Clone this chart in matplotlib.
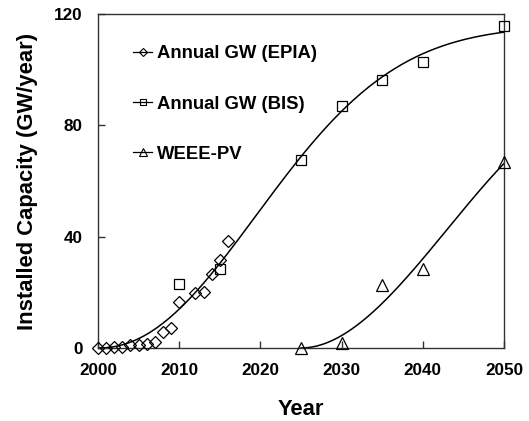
import numpy as np
import matplotlib
matplotlib.use("Agg")
import matplotlib.pyplot as plt
from matplotlib.lines import Line2D

plt.rcParams['font.family'] = ['Liberation Sans', 'DejaVu Sans']
plt.rcParams['font.weight'] = 'bold'

epia_years = [2000,2001,2002,2003,2004,2005,2006,2007,2008,2009,2010,2012,2013,2014,2015,2016]
epia_gw = [0.1,0.1,0.3,0.5,0.9,1.1,1.3,2.0,5.6,7.1,16.6,19.9,20.2,26.5,31.6,38.6]
bis_years = [2010,2015,2025,2030,2035,2040,2050]
bis_gw = [23.0,28.4,67.4,87.1,96.3,102.9,115.7]
weee_years = [2025,2030,2035,2040,2050]
weee_gw = [0.0,1.7,22.6,28.3,66.7]
labels = ['Annual GW (EPIA)', 'Annual GW (BIS)', 'WEEE-PV']
xticks = [2000,2010,2020,2030,2040,2050]
yticks = [0,40,80,120]

fig = plt.figure(figsize=(5.29,4.21), dpi=100)
ax = fig.add_axes([98/529, 1-348/421, (504-98)/529, (348-14)/421])
ax.set_xlim(2000,2050); ax.set_ylim(0,120)

# trend line 1: least-squares Weibull-type growth curve fitted to EPIA + BIS
x = np.array(epia_years+bis_years, float) - epia_years[0]
y = np.array(epia_gw+bis_gw)
best = None
for lam in np.linspace(15, 80, 261):
    for k in np.linspace(1.0, 4, 121):
        b = 1 - np.exp(-(x/lam)**k)
        K = (b@y)/(b@b)
        e = np.sum((K*b - y)**2)
        if best is None or e < best[0]:
            best = (e, lam, k, K)
_, lam, k, K = best
t = np.linspace(0, 50, 300)
ax.plot(t + epia_years[0], K*(1 - np.exp(-(t/lam)**k)), color='k', lw=1.1, zorder=2)

# trend line 2: least-squares fit y = a t^2 + b t^3 to WEEE-PV
xw = np.array(weee_years, float) - weee_years[0]
yw = np.array(weee_gw)
B = np.vstack([xw**2, xw**3]).T
coef2, *_ = np.linalg.lstsq(B, yw, rcond=None)
t2 = np.linspace(0, 25, 200)
f2 = np.vstack([t2**2, t2**3]).T @ coef2
ax.plot(t2 + weee_years[0], f2, color='k', lw=1.1, zorder=2)

mk = dict(mfc='none', mec='k', mew=0.9, ls='none', zorder=3, clip_on=False)
ax.plot(epia_years, epia_gw, marker='D', ms=6.3, **mk)
ax.plot(bis_years, bis_gw, marker='s', ms=7, **mk)
ax.plot(weee_years, weee_gw, marker='^', ms=8.5, **mk)

handles = [Line2D([],[],color='k',lw=0.9,marker=mm,ms=ss,mfc='none',mec='k',mew=0.8)
           for mm,ss in [('D',4.5),('s',5),('^',6)]]
leg = ax.legend(handles, labels, loc='upper left', bbox_to_anchor=(0.086,0.906),
                frameon=False, prop=dict(size=13.3, weight='bold'), handlelength=1.05,
                handletextpad=0.25, labelspacing=1.8, borderpad=0, borderaxespad=0)

ax.set_xticks(xticks)
ax.set_yticks(yticks)
ax.tick_params(direction='in', length=5, width=1, labelsize=12.3, top=False, right=False, color='#333333')
ax.tick_params(axis='y', pad=11)
ax.tick_params(axis='x', pad=11)
for sp in ax.spines.values():
    sp.set_color('#333333'); sp.set_linewidth(1.0)
ax.set_xlabel('Year', fontsize=15.8, fontweight='bold')
ax.set_ylabel('Installed Capacity (GW/year)', fontsize=15.8, fontweight='bold')
ax.xaxis.set_label_coords(0.5, -0.154)
ax.yaxis.set_label_coords(-0.148, 0.5)
fig.savefig('out.png')
